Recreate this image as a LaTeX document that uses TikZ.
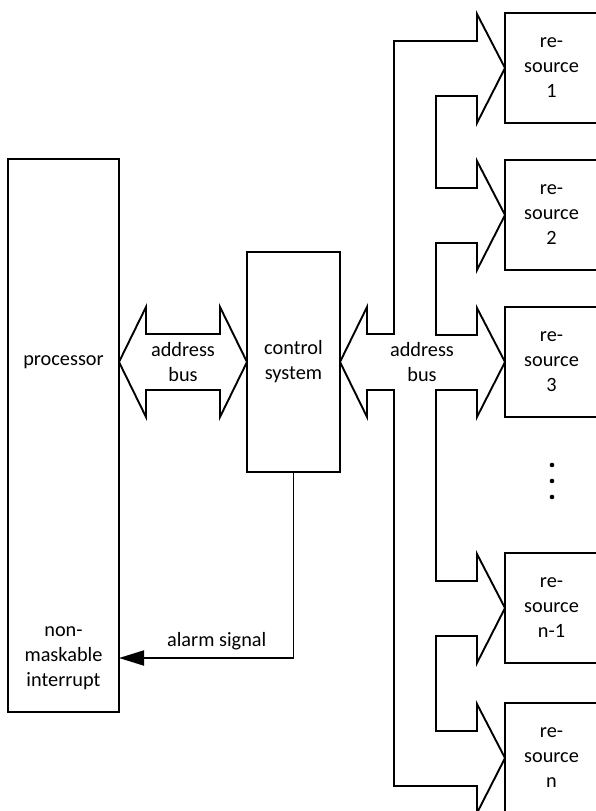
\documentclass[tikz,border=0pt]{standalone}
\usepackage{fontspec}
\setmainfont{Carlito}
\usetikzlibrary{positioning, arrows.meta}

\begin{document}
\begin{tikzpicture}[
    x=1pt, y=-1pt,
    node distance=37pt,
    every node/.style={font=\fontsize{20.3}{25}\selectfont, align=center},
    block/.style={rectangle, draw, line width=1.9pt, inner sep=0pt, outer sep=0pt},
    resource/.style={block, minimum width=93pt, minimum height=110pt},
    bus/.style={draw, line width=1.9pt, line join=miter},
    alarm/.style={line width=1.9pt, -{Triangle[length=25pt, width=15pt]}}
]

% visible window
\clip (0,0) rectangle (596,811);

% Processor and control system
\node[block, minimum width=111pt, minimum height=553pt] (proc) at (63.5,435.5) {};
\node[block, minimum width=93pt, minimum height=220pt] (ctrl) at (293.5,362) {control\\system};
\node (proctext) at (proc.center |- ctrl.center) {processor};
\node (nmi) at (63.5,658) {non-\\maskable\\interrupt};

% Resources
\node[resource, right=165pt of ctrl] (res3) {re-\\source\\3};
\node[resource, above=of res3] (res2) {re-\\source\\2};
\node[resource, above=of res2] (res1) {re-\\source\\1};
\node[resource, below=136pt of res3] (resn1) {re-\\source\\n-1};
\node[resource, below=40pt of resn1] (resn) {re-\\source\\n};

% Dots between resource 3 and n-1
\coordinate (dots) at (552,481);
\foreach \dy in {-16,0,16}
    \fill ([yshift=\dy pt]dots) circle (2.3pt);

% Address bus processor <-> control system
\draw[bus] (proc.east |- ctrl.west) -- ++(27,-55) -- ++(0,27) -- ++(74,0) -- ++(0,-27)
    -- (ctrl.west) -- ++(-27,55) -- ++(0,-27) -- ++(-74,0) -- ++(0,27) -- cycle;
\node (lbus) at (183,362) {address\\bus};

% Address bus control system -> resources
\draw[bus] (ctrl.east) -- ++(27,-55) -- ++(0,27) -- ++(27,0)
    |- ([xshift=-28pt, yshift=27pt]res1.west) -- ++(0,-27) -- (res1.west)
    -- ++(-28,55) -- ++(0,-27) -- ++(-41,0)
    |- ([xshift=-28pt, yshift=27pt]res2.west) -- ++(0,-27) -- (res2.west)
    -- ++(-28,55) -- ++(0,-27) -- ++(-41,0)
    |- ([xshift=-28pt, yshift=27pt]res3.west) -- ++(0,-27) -- (res3.west)
    -- ++(-28,55) -- ++(0,-27) -- ++(-41,0)
    |- ([xshift=-28pt, yshift=27pt]resn1.west) -- ++(0,-27) -- (resn1.west)
    -- ++(-28,55) -- ++(0,-27) -- ++(-41,0)
    |- ([xshift=-28pt, yshift=27pt]resn.west) -- ++(0,-27) -- (resn.west)
    -- ++(-28,55) -- ++(0,-27) -- ++(-83,0)
    |- ([xshift=27pt, yshift=-28pt]ctrl.east) -- ++(0,27) -- cycle;
\node (rbus) at (422,362) {address\\bus};

% Alarm signal to the non-maskable interrupt
\draw[alarm] (ctrl.south) |- (nmi -| proc.east) node[pos=0.72, above=4pt] {alarm signal};

\end{tikzpicture}
\end{document}
